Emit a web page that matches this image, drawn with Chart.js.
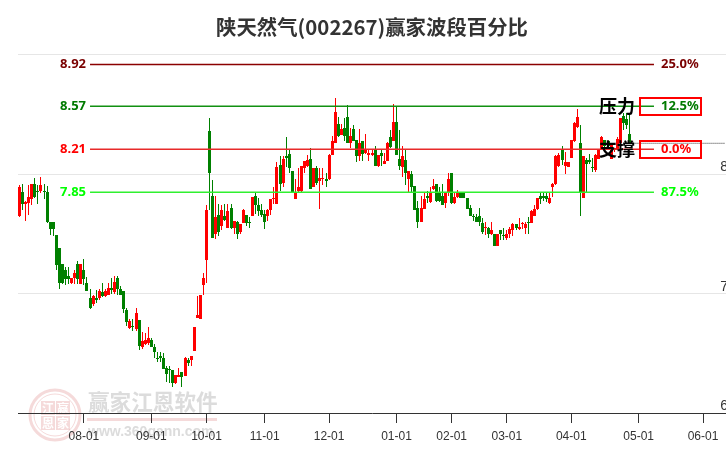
<!DOCTYPE html>
<html>
<head>
<meta charset="utf-8">
<script src="https://cdn.jsdelivr.net/npm/chart.js@4/dist/chart.umd.min.js"></script>
<style>
html, body { margin: 0; padding: 0; background: #fff; }
canvas { display: block; }
</style>
</head>
<body>
<canvas id="chart" width="726" height="450"></canvas>
<script>
const titleText = '陕天然气(002267)赢家波段百分比';

// trading days per month, June is the empty room on the right
const monthNames = ['07', '08', '09', '10', '11', '12', '01', '02', '03', '04', '05', '06'];
const monthCounts = [21, 22, 18, 19, 21, 22, 18, 18, 21, 22, 21, 8];
const tickLabels = ['08-01', '09-01', '10-01', '11-01', '12-01', '01-01', '02-01', '03-01', '04-01', '05-01', '06-01'];

const opens = [
  7.65,7.85,7.75,7.76,7.79,7.92,7.86,7.86,7.86,7.85,7.60,7.60,7.49,7.38,7.25,7.20,7.15,7.09,7.13,7.25,
  7.08,7.20,7.09,6.96,6.91,6.96,6.96,7.01,6.98,6.99,7.05,7.01,7.13,7.04,7.02,6.86,6.71,6.73,6.70,6.78,
  6.55,6.58,6.59,6.61,6.55,6.46,6.48,6.46,6.38,6.37,6.36,6.25,6.30,6.34,6.31,6.44,6.44,6.52,6.80,6.79,
  7.07,7.28,8.36,7.82,7.50,7.66,7.57,7.65,7.55,7.72,7.55,7.60,7.52,7.59,7.66,7.60,7.65,7.82,7.74,7.70,
  7.67,7.65,7.70,7.79,7.75,8.08,7.93,8.15,8.17,8.03,7.79,7.86,7.86,8.05,8.07,8.13,7.89,8.05,7.94,7.96,
  7.96,7.96,8.16,8.26,8.42,8.33,8.39,8.48,8.26,8.38,8.29,8.15,8.28,8.18,8.16,8.16,8.21,8.07,8.18,8.09,
  8.11,8.31,8.28,8.44,8.13,8.06,8.12,7.96,8.00,7.90,7.72,7.60,7.71,7.82,7.77,7.88,7.92,7.84,7.82,7.76,
  7.84,8.01,7.76,7.81,7.84,7.84,7.80,7.72,7.65,7.64,7.65,7.59,7.55,7.55,7.50,7.50,7.40,7.53,7.49,7.47,
  7.50,7.53,7.58,7.54,7.58,7.55,7.60,7.59,7.65,7.71,7.82,7.82,7.82,7.76,7.89,7.92,8.07,8.21,8.07,8.06,
  8.14,8.28,8.40,8.26,7.80,8.12,8.12,8.06,8.04,8.13,8.21,8.29,8.28,8.13,8.20,8.21,8.26,8.49,8.46,8.34
];
const closes = [
  7.89,7.75,7.77,7.81,7.92,7.81,7.85,7.91,7.85,7.60,7.54,7.54,7.24,7.09,7.09,7.12,7.12,7.13,7.17,7.12,
  7.25,7.12,7.02,6.88,6.98,6.95,7.02,6.98,7.02,7.05,7.03,7.10,7.04,6.99,6.87,6.76,6.77,6.72,6.84,6.56,
  6.60,6.61,6.63,6.55,6.51,6.45,6.46,6.37,6.33,6.36,6.25,6.32,6.32,6.30,6.46,6.42,6.48,6.72,6.82,6.99,
  7.13,7.70,8.01,7.47,7.64,7.52,7.70,7.62,7.69,7.55,7.61,7.50,7.58,7.70,7.59,7.59,7.81,7.74,7.69,7.66,
  7.60,7.70,7.79,7.80,8.06,7.92,8.13,8.14,8.05,7.85,7.84,7.89,8.07,8.11,8.12,7.88,8.05,7.93,7.97,7.97,
  7.94,8.16,8.28,8.52,8.32,8.38,8.32,8.26,8.32,8.28,8.15,8.26,8.17,8.20,8.18,8.18,8.07,8.16,8.15,8.11,
  8.26,8.23,8.44,8.16,8.07,8.15,8.01,8.03,7.89,7.70,7.60,7.72,7.79,7.80,7.85,7.90,7.78,7.78,7.74,7.84,
  7.96,7.76,7.81,7.84,7.80,7.80,7.71,7.65,7.64,7.60,7.60,7.52,7.56,7.50,7.53,7.40,7.50,7.50,7.48,7.50,
  7.54,7.58,7.55,7.56,7.59,7.58,7.59,7.69,7.71,7.80,7.79,7.80,7.79,7.80,7.92,8.15,8.16,8.12,8.10,8.10,
  8.29,8.43,8.48,7.84,8.15,8.09,8.10,8.05,8.16,8.21,8.31,8.24,8.24,8.26,8.22,8.30,8.47,8.43,8.41,8.26
];
const lows = [
  7.64,7.70,7.61,7.66,7.74,7.80,7.75,7.84,7.79,7.59,7.49,7.48,7.20,7.04,7.08,7.07,7.08,7.08,7.08,7.08,
  7.08,7.07,7.02,6.87,6.90,6.92,6.95,6.97,6.97,6.99,7.00,7.00,6.99,6.99,6.84,6.73,6.70,6.69,6.69,6.53,
  6.54,6.57,6.57,6.55,6.46,6.43,6.43,6.37,6.26,6.25,6.22,6.24,6.30,6.22,6.31,6.39,6.39,6.52,6.80,6.79,
  6.99,7.09,7.70,7.47,7.46,7.48,7.53,7.61,7.55,7.54,7.50,7.46,7.50,7.59,7.57,7.55,7.65,7.67,7.65,7.64,
  7.54,7.61,7.66,7.75,7.75,7.86,7.89,8.06,8.01,7.85,7.79,7.85,7.85,8.01,8.06,7.88,7.89,7.91,7.71,7.91,
  7.89,7.95,8.16,8.26,8.31,8.33,8.28,8.26,8.22,8.28,8.10,8.11,8.11,8.17,8.11,8.15,8.07,8.06,8.07,8.09,
  8.11,8.22,8.28,8.16,8.04,7.98,7.91,7.85,7.85,7.70,7.55,7.60,7.71,7.76,7.76,7.87,7.77,7.77,7.74,7.72,
  7.82,7.75,7.75,7.80,7.80,7.80,7.71,7.65,7.61,7.60,7.57,7.50,7.49,7.47,7.49,7.40,7.40,7.45,7.45,7.45,
  7.47,7.48,7.53,7.53,7.54,7.50,7.50,7.59,7.65,7.70,7.75,7.78,7.77,7.75,7.81,7.91,8.06,8.08,8.00,8.06,
  8.14,8.27,8.39,7.65,7.80,7.84,8.09,8.02,8.02,8.13,8.21,8.23,8.23,8.13,8.19,8.21,8.24,8.37,8.38,8.26
];
const highs = [
  7.91,7.92,7.78,7.91,7.92,7.97,7.91,7.98,7.92,7.90,7.60,7.60,7.49,7.38,7.25,7.22,7.22,7.13,7.20,7.27,
  7.25,7.29,7.14,7.04,6.99,7.03,7.04,7.09,7.04,7.09,7.13,7.15,7.15,7.06,7.02,6.88,6.79,6.79,6.88,6.78,
  6.68,6.67,6.72,6.63,6.58,6.51,6.51,6.50,6.39,6.39,6.36,6.32,6.38,6.34,6.47,6.46,6.48,6.72,6.98,6.99,
  7.17,7.74,8.47,7.95,7.82,7.75,7.74,7.75,7.75,7.75,7.61,7.61,7.58,7.71,7.66,7.64,7.81,7.85,7.80,7.75,
  7.70,7.71,7.79,7.89,8.10,8.15,8.15,8.31,8.20,8.03,7.96,8.05,8.07,8.11,8.16,8.22,8.05,8.07,8.05,8.05,
  8.01,8.17,8.32,8.64,8.48,8.42,8.47,8.58,8.39,8.41,8.29,8.38,8.28,8.34,8.21,8.21,8.24,8.16,8.21,8.18,
  8.27,8.37,8.59,8.57,8.37,8.24,8.20,8.03,8.03,7.90,7.78,7.82,7.84,7.86,7.89,7.96,7.92,7.89,7.92,7.85,
  8.01,8.01,7.84,7.87,7.85,7.85,7.80,7.74,7.67,7.67,7.72,7.63,7.60,7.56,7.60,7.50,7.50,7.53,7.55,7.53,
  7.56,7.59,7.58,7.63,7.60,7.60,7.64,7.70,7.74,7.80,7.84,7.85,7.84,7.84,7.93,8.16,8.18,8.24,8.19,8.10,
  8.29,8.44,8.55,8.41,8.15,8.14,8.17,8.14,8.17,8.21,8.32,8.29,8.28,8.26,8.22,8.31,8.47,8.51,8.51,8.51
];

const levelValues = [8.92, 8.57, 8.21, 7.85];
const levelPercents = ['25.0%', '12.5%', '0.0%', '87.5%'];
const levelLineColors = ['#8b0000', '#119011', '#e82a2a', '#2ff02f'];
const levelTextColors = ['#7a0000', '#007a00', '#ff0000', '#00ff00'];
const levelStart = '08-03';
const levelEnd = '05-06';
const boxedLevels = [8.57, 8.21];
const sideNotes = [{ text: '压力', level: 8.57 }, { text: '支撑', level: 8.21 }];

const categories = [];
monthNames.forEach((m, k) => {
    for (let d = 1; d <= monthCounts[k]; d++) categories.push(m + '-' + String(d).padStart(2, '0'));
});

const candleColors = closes.map((c, i) => (c >= opens[i] ? '#ff0000' : '#008000'));
const RED_PALE = 'rgba(205, 70, 70, 0.2)';

const levelLines = levelValues.map((v, k) => ({
    type: 'line',
    data: [{ x: levelStart, y: v }, { x: levelEnd, y: v }],
    borderColor: levelLineColors[k],
    borderWidth: 1.4,
    pointRadius: 0,
    order: 0
}));

// dotted line for the last close, runs off to the right edge
const lastLine = {
    type: 'line',
    data: [
        { x: categories[closes.length - 1], y: closes[closes.length - 1] },
        { x: categories[categories.length - 1], y: closes[closes.length - 1] }
    ],
    borderColor: '#333',
    borderWidth: 1,
    borderDash: [1, 1],
    pointRadius: 0,
    order: 0
};

const watermark = {
    id: 'watermark',
    beforeDraw(chart) {
        const ctx = chart.ctx;
        ctx.save();
        ctx.strokeStyle = RED_PALE;
        ctx.lineWidth = 3;
        ctx.beginPath(); ctx.arc(55, 415, 25, 0, Math.PI * 2); ctx.stroke();
        ctx.lineWidth = 1;
        ctx.beginPath(); ctx.arc(55, 415, 21, 0, Math.PI * 2); ctx.stroke();
        ctx.fillStyle = RED_PALE;
        ctx.fillRect(41, 401, 14, 14);
        ctx.fillRect(56, 401, 14, 14);
        ctx.fillRect(41, 416, 14, 14);
        ctx.fillRect(56, 416, 14, 14);
        ctx.fillStyle = '#fff';
        ctx.font = 'bold 12px "Noto Sans CJK SC"';
        ctx.textAlign = 'center';
        ctx.textBaseline = 'middle';
        ctx.fillText('江', 48, 408);
        ctx.fillText('赢', 63, 408);
        ctx.fillText('恩', 48, 423);
        ctx.fillText('家', 63, 423);
        ctx.fillStyle = '#dcdcdc';
        ctx.font = 'bold 21.6px "Noto Sans CJK SC"';
        ctx.textAlign = 'left';
        ctx.fillText('赢家江恩软件', 88, 402);
        ctx.fillStyle = RED_PALE;
        ctx.fillRect(87, 418, 130, 3);
        ctx.fillStyle = '#dcdcdc';
        ctx.font = 'bold 14px "Liberation Sans"';
        ctx.fillText('www.360gann.com', 88, 432);
        ctx.restore();
    }
};

// snap the candles to whole pixels so they stay crisp like the original
const snapCandles = {
    id: 'snapCandles',
    beforeDatasetsDraw(chart) {
        chart.getSortedVisibleDatasetMetas().forEach(meta => {
            if (meta.type !== 'bar') return;
            meta.data.forEach(bar => {
                bar.x = Math.floor(bar.x) + 0.5;
                const top = Math.round(Math.min(bar.y, bar.base));
                const bottom = Math.round(Math.max(bar.y, bar.base));
                bar.y = top;
                bar.base = Math.max(bottom, top + 1);
            });
        });
    }
};

const levelTexts = {
    id: 'levelTexts',
    afterDraw(chart) {
        const ctx = chart.ctx;
        const y = chart.scales.y;
        ctx.save();
        ctx.textBaseline = 'middle';
        levelValues.forEach((v, k) => {
            ctx.fillStyle = levelTextColors[k];
            ctx.font = 'bold 13px "Noto Sans"';
            ctx.textAlign = 'right';
            ctx.fillText(v.toFixed(2), 86, y.getPixelForValue(v));
            ctx.textAlign = 'left';
            ctx.fillText(levelPercents[k], 661, y.getPixelForValue(v));
        });
        ctx.strokeStyle = '#ff0000';
        ctx.lineWidth = 2;
        boxedLevels.forEach(v => {
            ctx.strokeRect(640, Math.round(y.getPixelForValue(v)) - 8, 61, 17);
        });
        ctx.fillStyle = '#000';
        ctx.font = 'bold 18px "Noto Sans CJK SC"';
        ctx.textAlign = 'left';
        sideNotes.forEach(n => ctx.fillText(n.text, 599, y.getPixelForValue(n.level)));
        ctx.restore();
    }
};

new Chart(document.getElementById('chart'), {
    type: 'bar',
    plugins: [watermark, snapCandles, levelTexts],
    data: {
        labels: categories,
        datasets: [
            ...levelLines,
            lastLine,
            {
                data: opens.map((o, i) => [o, closes[i]]),
                backgroundColor: candleColors,
                barThickness: 3,
                minBarLength: 1,
                grouped: false,
                inflateAmount: 0,
                order: 1
            },
            {
                data: lows.map((l, i) => [l, highs[i]]),
                backgroundColor: candleColors,
                barThickness: 1,
                minBarLength: 1,
                grouped: false,
                inflateAmount: 0,
                order: 2
            }
        ]
    },
    options: {
        responsive: false,
        devicePixelRatio: 1,
        animation: false,
        layout: { padding: { left: 18, right: 0, top: 0, bottom: 0 } },
        plugins: {
            legend: { display: false },
            tooltip: { enabled: false },
            title: {
                display: true,
                text: titleText,
                color: '#333',
                font: { family: '"Noto Sans CJK SC"', size: 20.4, weight: 'bold' },
                padding: { top: 15, bottom: 15.5 }
            }
        },
        scales: {
            x: {
                type: 'category',
                offset: true,
                afterBuildTicks(scale) {
                    scale.ticks = scale.ticks.filter(t => tickLabels.includes(categories[t.value]));
                },
                afterFit(scale) { scale.height = 37; },
                grid: { drawOnChartArea: false, offset: false, color: '#333', tickLength: 10 },
                border: { color: '#333', width: 1 },
                ticks: {
                    autoSkip: false,
                    maxRotation: 0,
                    padding: 6,
                    color: '#333',
                    font: { family: '"Liberation Sans"', size: 12 }
                }
            },
            y: {
                position: 'right',
                min: 6,
                max: 9,
                afterFit(scale) { scale.width = 0; },
                grid: { color: '#e6e6e6', drawTicks: false },
                border: { display: false },
                ticks: {
                    mirror: true,
                    stepSize: 1,
                    padding: 2,
                    labelOffset: -7,
                    color: '#333',
                    font: { family: '"Liberation Sans"', size: 14 },
                    callback: v => (v === 9 ? '' : v)
                }
            }
        }
    }
});
</script>
</body>
</html>
